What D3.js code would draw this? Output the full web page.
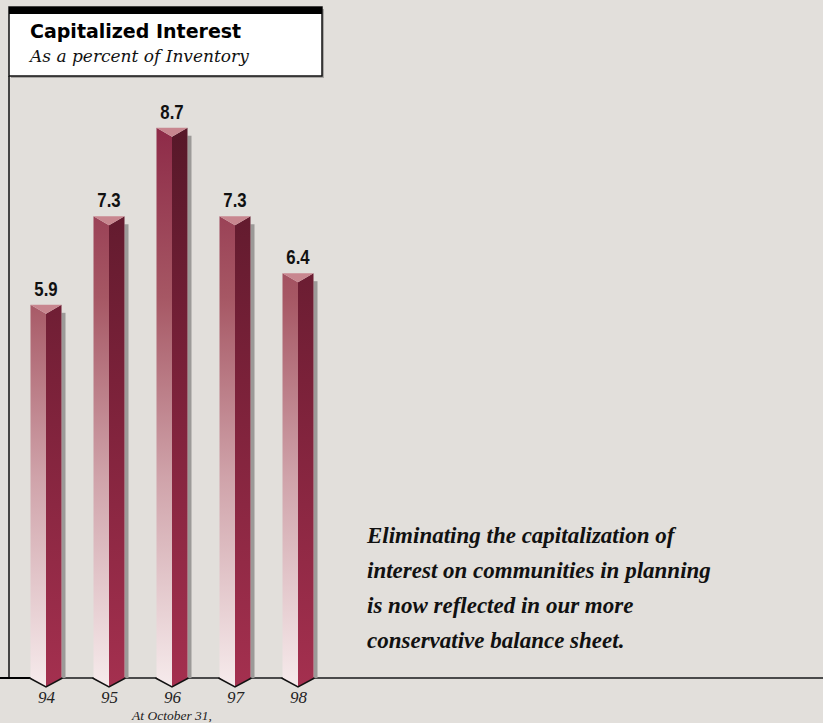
<!DOCTYPE html>
<html>
<head>
<meta charset="utf-8">
<script src="https://cdn.jsdelivr.net/npm/d3@7/dist/d3.min.js"></script>
<style>
  html, body { margin: 0; padding: 0; background: #e2dfdb; }
  svg { display: block; }
</style>
</head>
<body>
<script>
// Capitalized interest as a percent of inventory, fiscal years ending October 31
const years = ["94", "95", "96", "97", "98"];
const values = [5.9, 7.3, 8.7, 7.3, 6.4];
const valueLabels = ["5.9", "7.3", "8.7", "7.3", "6.4"];
const noteLines = [
  "Eliminating the capitalization of",
  "interest on communities in planning",
  "is now reflected in our more",
  "conservative balance sheet."
];

const W = 823, H = 723;
const baseY = 678;          // floor line
const halfW = 15.5;         // half width of a prism
const capDepth = 9;         // depth of the pointed top / bottom
const shadowW = 4;

const svg = d3.select("body").append("svg")
  .attr("width", W).attr("height", H);

svg.append("rect").attr("width", W).attr("height", H).attr("fill", "#e2dfdb");

const x = d3.scalePoint().domain(years).range([46, 298]);
const y = d3.scaleLinear().domain([0, 10]).range([baseY, 45.5]);

// gradients shared across all prisms (user space so every bar fades the same way)
const defs = svg.append("defs");
const gLeft = defs.append("linearGradient").attr("id", "leftFace")
  .attr("gradientUnits", "userSpaceOnUse")
  .attr("x1", 0).attr("x2", 0).attr("y1", 130).attr("y2", baseY + capDepth);
[[0, "#8e2b48"], [0.3, "#a65764"], [0.62, "#cfa2a9"], [1, "#f6ebec"]]
  .forEach(([o, c]) => gLeft.append("stop").attr("offset", o).attr("stop-color", c));
const gRight = defs.append("linearGradient").attr("id", "rightFace")
  .attr("gradientUnits", "userSpaceOnUse")
  .attr("x1", 0).attr("x2", 0).attr("y1", 130).attr("y2", baseY + capDepth);
[[0, "#571829"], [0.45, "#7a2139"], [1, "#a4304f"]]
  .forEach(([o, c]) => gRight.append("stop").attr("offset", o).attr("stop-color", c));

// title panel
const panel = svg.append("g");
panel.append("rect").attr("x", 11).attr("y", 9).attr("width", 313).attr("height", 69)
  .attr("fill", "#a9a7a4");
panel.append("rect").attr("x", 9).attr("y", 7).attr("width", 313).attr("height", 69)
  .attr("fill", "#ffffff").attr("stroke", "#111").attr("stroke-width", 1.5);
panel.append("rect").attr("x", 9).attr("y", 7).attr("width", 313).attr("height", 7)
  .attr("fill", "#000");
panel.append("text").attr("x", 30).attr("y", 38)
  .attr("font-family", "'DejaVu Sans', 'Noto Sans', sans-serif")
  .attr("font-weight", 700).attr("font-size", 19).attr("fill", "#000")
  .text("Capitalized Interest");
panel.append("text").attr("x", 30).attr("y", 62)
  .attr("font-family", "'DejaVu Serif', serif").attr("font-style", "italic")
  .attr("font-size", 17).attr("fill", "#111")
  .text("As a percent of Inventory");

// left rule under the panel
svg.append("line").attr("x1", 9).attr("x2", 9).attr("y1", 76).attr("y2", baseY)
  .attr("stroke", "#111").attr("stroke-width", 1.5);

// floor line
svg.append("line").attr("x1", 0).attr("x2", W).attr("y1", baseY).attr("y2", baseY)
  .attr("stroke", "#4a4a4a").attr("stroke-width", 2);
svg.append("line").attr("x1", 0).attr("x2", 30).attr("y1", baseY).attr("y2", baseY)
  .attr("stroke", "#000").attr("stroke-width", 2);

// prisms
const bars = svg.append("g").selectAll("g").data(years.map((yr, i) => ({ yr, v: values[i], label: valueLabels[i] })))
  .join("g");

bars.append("rect")
  .attr("x", d => x(d.yr) + halfW)
  .attr("y", d => y(d.v) + 8)
  .attr("width", shadowW)
  .attr("height", d => baseY - y(d.v) - 8)
  .attr("fill", "#9c9a98");

bars.append("path")
  .attr("d", d => {
    const xc = x(d.yr), t = y(d.v);
    return `M${xc - halfW},${t}L${xc},${t + capDepth}L${xc},${baseY + capDepth}L${xc - halfW},${baseY}Z`;
  })
  .attr("fill", "url(#leftFace)");

bars.append("path")
  .attr("d", d => {
    const xc = x(d.yr), t = y(d.v);
    return `M${xc},${t + capDepth}L${xc + halfW},${t}L${xc + halfW},${baseY}L${xc},${baseY + capDepth}Z`;
  })
  .attr("fill", "url(#rightFace)");

bars.append("path")
  .attr("d", d => {
    const xc = x(d.yr), t = y(d.v);
    return `M${xc - halfW},${t}L${xc + halfW},${t}L${xc},${t + capDepth}Z`;
  })
  .attr("fill", "#c8868f");

// pointed bottom outline
bars.append("path")
  .attr("d", d => {
    const xc = x(d.yr);
    return `M${xc - halfW - 1},${baseY}L${xc},${baseY + capDepth}L${xc + halfW + 1},${baseY}`;
  })
  .attr("fill", "none").attr("stroke", "#111").attr("stroke-width", 1.5);

// value labels (condensed bold figures)
bars.append("text")
  .attr("transform", d => `translate(${x(d.yr)},${y(d.v) - 9}) scale(0.86,1)`)
  .attr("text-anchor", "middle")
  .attr("font-family", "'Liberation Sans Narrow', 'Arial Narrow', 'Liberation Sans', sans-serif")
  .attr("font-weight", 700).attr("font-size", 19.5).attr("fill", "#111")
  .text(d => d.label);

// year axis
const axis = svg.append("g").attr("transform", `translate(0,${baseY})`)
  .call(d3.axisBottom(x).tickSize(0).tickPadding(13));
axis.select(".domain").remove();
axis.selectAll("text")
  .attr("font-family", "'Liberation Serif', 'Times New Roman', serif")
  .attr("font-style", "italic").attr("font-size", 17).attr("fill", "#222");

svg.append("text").attr("x", x("96")).attr("y", 720)
  .attr("text-anchor", "middle")
  .attr("font-family", "'Liberation Serif', 'Times New Roman', serif")
  .attr("font-style", "italic").attr("font-size", 13.5).attr("fill", "#222")
  .text("At October 31,");

// note
svg.append("g").selectAll("text").data(noteLines).join("text")
  .attr("x", 367)
  .attr("y", (d, i) => 543 + i * 35)
  .attr("font-family", "'Liberation Serif', 'Times New Roman', serif")
  .attr("font-style", "italic").attr("font-weight", 700)
  .attr("font-size", 23).attr("fill", "#111")
  .text(d => d);
</script>
</body>
</html>
